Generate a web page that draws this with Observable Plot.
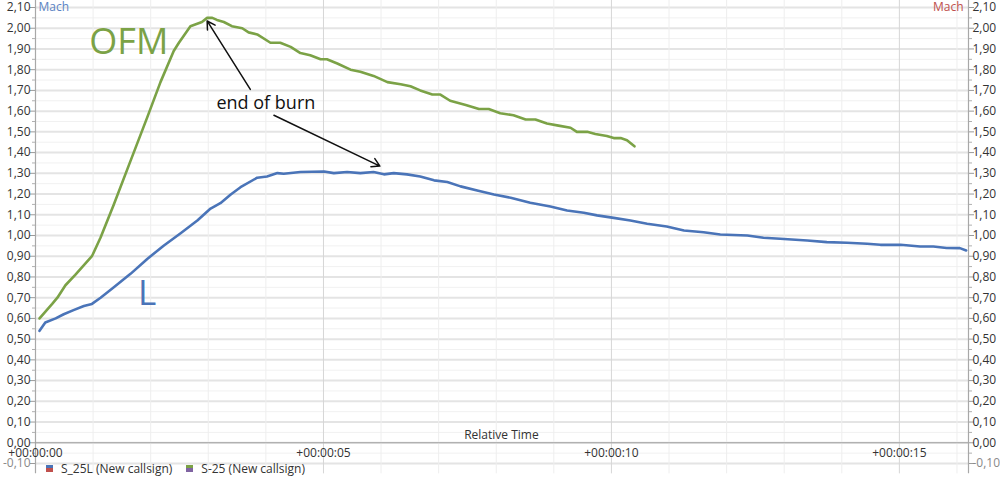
<!DOCTYPE html>
<html>
<head>
<meta charset="utf-8">
<script src="https://cdn.jsdelivr.net/npm/d3@7"></script>
<script src="https://cdn.jsdelivr.net/npm/@observablehq/plot@0.6"></script>
<style>
  html, body { margin: 0; padding: 0; background: #fff; }
  #wrap { position: relative; width: 1000px; height: 477px; overflow: hidden; font-family: "Open Sans", sans-serif; }
  #legend { position: absolute; top: 460px; left: 46px; display: flex; align-items: center; font-size: 12px; color: #333; white-space: nowrap; }
  .sw { display: inline-block; width: 7px; height: 7px; margin-right: 8px; }
  .item { display: flex; align-items: center; margin-right: 14px; }
</style>
</head>
<body>
<div id="wrap"></div>
<script>
// ---- data ----
const seriesNames = ["S_25L (New callsign)", "S-25 (New callsign)"];

const blueTime = [0.07,0.17,0.35,0.49,0.66,0.84,0.98,1.13,1.36,1.65,1.94,2.23,2.52,2.81,3.04,3.21,3.39,3.56,3.85,4.02,4.20,4.31,4.60,5.01,5.18,5.41,5.64,5.87,6.05,6.22,6.45,6.68,6.92,7.15,7.38,7.67,7.96,8.25,8.59,8.94,9.23,9.52,9.75,10.04,10.33,10.62,10.96,11.26,11.60,11.89,12.36,12.64,12.93,13.40,13.74,14.09,14.44,14.67,15.02,15.36,15.59,15.82,16.05,16.16];
const blueMach = [0.54,0.58,0.60,0.62,0.64,0.66,0.67,0.70,0.75,0.815,0.887,0.952,1.011,1.072,1.13,1.156,1.198,1.233,1.279,1.285,1.301,1.298,1.306,1.309,1.301,1.306,1.301,1.306,1.295,1.301,1.295,1.285,1.266,1.258,1.237,1.217,1.198,1.182,1.158,1.14,1.121,1.11,1.097,1.085,1.072,1.057,1.043,1.024,1.016,1.005,1.0,0.989,0.984,0.976,0.968,0.965,0.96,0.955,0.955,0.947,0.947,0.94,0.939,0.928];

const greenTime = [0.07,0.29,0.38,0.52,0.69,0.98,1.13,1.36,1.65,1.94,2.17,2.40,2.49,2.69,2.89,2.98,3.07,3.15,3.27,3.41,3.59,3.70,3.85,4.08,4.25,4.43,4.60,4.77,4.95,5.06,5.24,5.47,5.64,5.87,6.11,6.34,6.51,6.68,6.89,7.03,7.20,7.47,7.70,7.87,8.07,8.30,8.51,8.68,8.88,9.08,9.29,9.40,9.58,9.72,9.92,10.04,10.16,10.27,10.40];
const greenMach = [0.60,0.67,0.70,0.76,0.81,0.90,0.99,1.15,1.36,1.57,1.74,1.89,1.93,2.01,2.03,2.05,2.05,2.04,2.03,2.01,2.00,1.98,1.97,1.93,1.93,1.91,1.88,1.87,1.85,1.85,1.83,1.80,1.79,1.77,1.74,1.73,1.72,1.70,1.68,1.68,1.65,1.63,1.61,1.61,1.59,1.58,1.56,1.56,1.54,1.53,1.52,1.50,1.50,1.49,1.48,1.47,1.47,1.46,1.43];

const yTicks = [-0.1,0,0.1,0.2,0.3,0.4,0.5,0.6,0.7,0.8,0.9,1.0,1.1,1.2,1.3,1.4,1.5,1.6,1.7,1.8,1.9,2.0,2.1];
const yMinorTicks = [-0.05,0.05,0.15,0.25,0.35,0.45,0.55,0.65,0.75,0.85,0.95,1.05,1.15,1.25,1.35,1.45,1.55,1.65,1.75,1.85,1.95,2.05];
const xGrid = [1,2,3,4,6,7,8,9,11,12,13,14,16];
const xMajorGrid = [5,10,15];
const xTickValues = [0,5,10,15];
const xTickLabels = ["+00:00:00","+00:00:05","+00:00:10","+00:00:15"];

const annotations = [
  {text: "OFM", t: 1.62, v: 1.93, color: "#7ba246", size: 36},
  {text: "L", t: 1.94, v: 0.72, color: "#4a74b8", size: 35},
  {text: "end of burn", t: 4.0, v: 1.64, color: "#111", size: 18}
];
const arrowsData = [
  {t1: 3.73, v1: 1.705, t2: 2.98, v2: 2.035},
  {t1: 4.14, v1: 1.58, t2: 5.98, v2: 1.335}
];

// ---- build ----
const blue = blueTime.map((t, i) => ({t, v: blueMach[i]}));
const green = greenTime.map((t, i) => ({t, v: greenMach[i]}));
const fmt = v => d3.format(".2f")(v).replace(".", ",").replace("−", "-");
const X0 = 0, X1 = 16.2;

const chart = Plot.plot({
  width: 1000,
  height: 477,
  marginLeft: 35,
  marginRight: 32,
  marginTop: 7,
  marginBottom: 14,
  x: {domain: [X0, X1], axis: null},
  y: {domain: [-0.1, 2.1], axis: null},
  style: {fontFamily: "'Open Sans', sans-serif", fontSize: "12px", background: "#fff", color: "#333"},
  marks: [
    // grid
    Plot.ruleY(yMinorTicks, {y: d => d, x1: X0, x2: X1, stroke: "#f1f1f1", strokeWidth: 1}),
    Plot.ruleY(yTicks, {y: d => d, x1: X0, x2: X1, stroke: "#e4e4e4", strokeWidth: 2}),
    Plot.ruleX(xGrid, {x: d => d, y1: -0.15, y2: 2.15, stroke: "#eeeeee", strokeWidth: 1}),
    Plot.ruleX(xMajorGrid, {x: d => d, y1: -0.15, y2: 2.15, stroke: "#d6d6d6", strokeWidth: 1}),
    // axis lines
    Plot.ruleX([X0, X1], {x: d => d, y1: -0.15, y2: 2.15, stroke: "#a8a8a8", strokeWidth: 1.2}),
    Plot.ruleY([0], {x1: X0, x2: X1, stroke: "#a0a0a0", strokeWidth: 1.2}),
    // ticks
    Plot.axisY({anchor: "left", ticks: yTicks, tickSize: 5, tickFormat: () => "", stroke: "#9a9a9a", label: null}),
    Plot.axisY({anchor: "left", ticks: yMinorTicks, tickSize: 3, tickFormat: () => "", stroke: "#b0b0b0", label: null}),
    Plot.axisY({anchor: "right", ticks: yTicks, tickSize: 5, tickFormat: () => "", stroke: "#9a9a9a", label: null}),
    Plot.axisY({anchor: "right", ticks: yMinorTicks, tickSize: 3, tickFormat: () => "", stroke: "#b0b0b0", label: null}),
    // tick labels
    Plot.text(yTicks, {x: X0, y: d => d, text: fmt, textAnchor: "end", dx: -5, fontSize: 12, fill: d => d < 0 ? "#8a8a8a" : "#333"}),
    Plot.text(yTicks, {x: X1, y: d => d, text: fmt, textAnchor: "start", dx: 4, fontSize: 12, fill: d => d < 0 ? "#8a8a8a" : "#333"}),
    Plot.text(xTickValues, {x: d => d, y: 0, text: (d, i) => xTickLabels[i], dy: 10, fontSize: 12, fill: "#333"}),
    Plot.text(["Relative Time"], {x: 8.09, y: 0, dy: -8, text: d => d, fontSize: 12, fill: "#333"}),
    Plot.text(["Mach"], {x: X0, y: 2.1, dx: 3, text: d => d, textAnchor: "start", fontSize: 12, fill: "#5b84c4"}),
    Plot.text(["Mach"], {x: X1, y: 2.1, dx: -5, text: d => d, textAnchor: "end", fontSize: 12, fill: "#c0504d"}),
    // series
    Plot.line(blue, {x: "t", y: "v", stroke: "#4a74b8", strokeWidth: 2.6}),
    Plot.line(green, {x: "t", y: "v", stroke: "#7ba246", strokeWidth: 2.6}),
    // annotations
    Plot.text(annotations, {x: "t", y: "v", text: "text", fill: "color", fontSize: d => d.size}),
    Plot.arrow(arrowsData, {x1: "t1", y1: "v1", x2: "t2", y2: "v2", stroke: "#111", strokeWidth: 1.5, headLength: 9})
  ]
});

const wrap = document.getElementById("wrap");
wrap.appendChild(chart);
const legend = document.createElement("div");
legend.id = "legend";
const swatches = [["#4a74b8", "#c0504d"], ["#7ba246", "#8064a2"]];
seriesNames.forEach((name, i) => {
  const item = document.createElement("span");
  item.className = "item";
  const sw = document.createElement("span");
  sw.className = "sw";
  sw.style.background = `linear-gradient(${swatches[i][0]} 50%, ${swatches[i][1]} 50%)`;
  item.appendChild(sw);
  item.appendChild(document.createTextNode(name));
  legend.appendChild(item);
});
wrap.appendChild(legend);
</script>
</body>
</html>
